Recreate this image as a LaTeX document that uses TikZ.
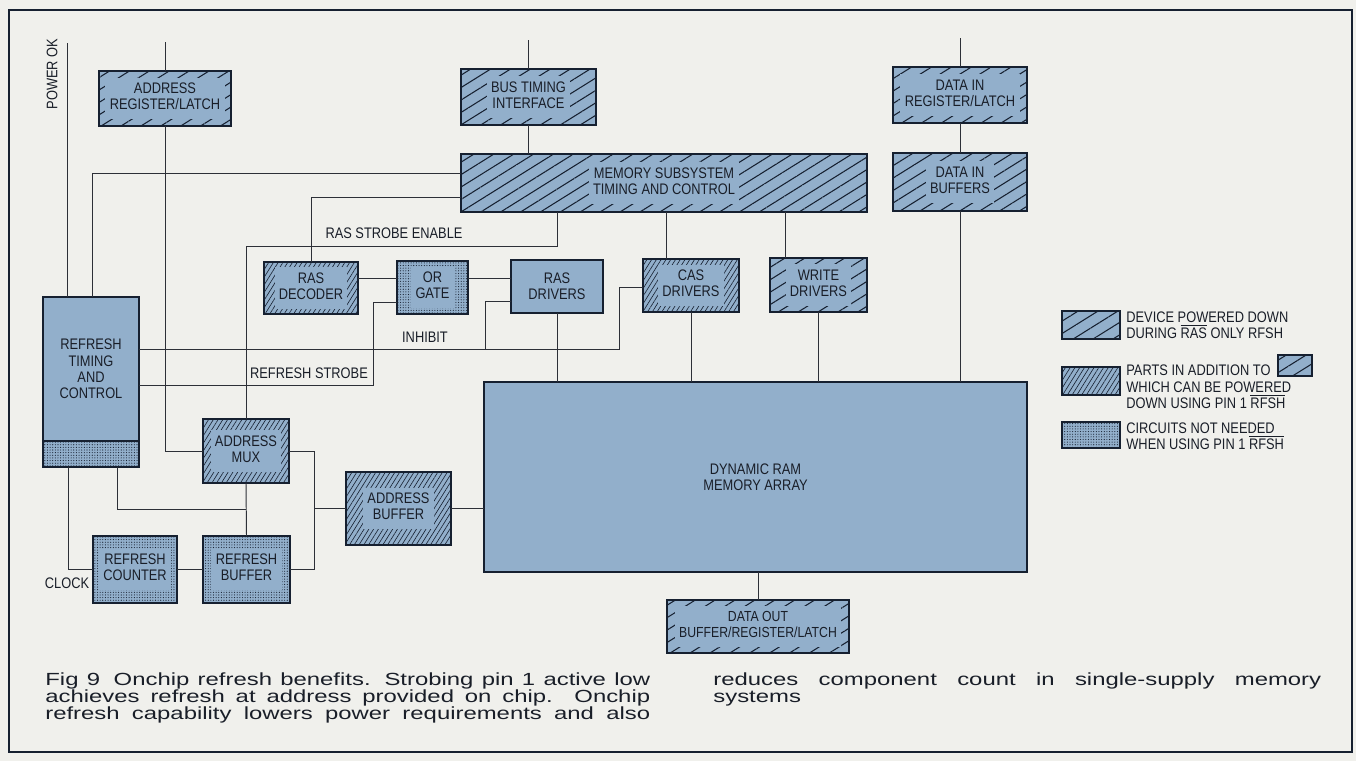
\documentclass[tikz,border=0pt]{standalone}
\usepackage{fontspec}
\newfontfamily\lblfont[FakeStretch=0.84]{Liberation Sans}
\newfontfamily\capfont[FakeStretch=1.36]{Liberation Sans}
\usetikzlibrary{patterns.meta}

\definecolor{paperbg}{RGB}{240,240,236}
\definecolor{boxfill}{RGB}{146,175,203}
\definecolor{boxedge}{RGB}{22,32,48}
\definecolor{wirecol}{RGB}{45,48,55}
\definecolor{inkcol}{RGB}{25,30,40}

\newcommand\clr[1]{{\setlength\fboxsep{2.5pt}\colorbox{boxfill}{\begin{tabular}{@{}c@{}}#1\end{tabular}}}}
\newcommand\ovl[1]{$\overline{\hbox{#1}}$}

\begin{document}
\begin{tikzpicture}[x=0.02cm,y=-0.02cm,
  lbl/.style={font=\lblfont\fontsize{8.7}{9.3}\selectfont,text=inkcol,inner sep=0pt},
  sz/.style 2 args={minimum width=#1cm,minimum height=#2cm},
  boxbase/.style={lbl,draw=boxedge,line width=1.3pt,outer sep=0pt,align=center},
  plainbox/.style={boxbase,fill=boxfill},
  widebox/.style={boxbase,preaction={fill=boxfill},
    pattern={Lines[angle=32,distance=6pt,line width=0.6pt]},pattern color=boxedge},
  densebox/.style={boxbase,preaction={fill=boxfill},
    pattern={Lines[angle=58,distance=2.3pt,line width=0.35pt]},pattern color=boxedge},
  dotbox/.style={boxbase,preaction={fill=boxfill},
    pattern={Dots[distance=1.5pt,radius=0.32pt]},pattern color=boxedge},
  wire/.style={draw=wirecol,line width=0.55pt},
  captext/.style={font=\capfont\fontsize{10}{9.7}\selectfont,text=inkcol,inner sep=0pt,
    anchor=north west,align=justify}]

 % page and frame
 \fill[paperbg] (0,0) rectangle (1356,761);
 \draw[boxedge,line width=1.4pt] (9,10) rectangle (1352,752);

 % blocks
 \node[widebox,sz={2.64}{1.10}] (addreg) at (165,98.5) {\clr{ADDRESS\\REGISTER/LATCH}};
 \node[widebox,sz={2.70}{1.12}] (bus) at (528.5,97) {\clr{BUS TIMING\\INTERFACE}};
 \node[widebox,sz={2.68}{1.12}] (dinreg) at (960,95) {\clr{DATA IN\\REGISTER/LATCH}};
 \node[widebox,sz={8.12}{1.16}] (memsub) at (664,183) {\clr{MEMORY SUBSYSTEM\\TIMING AND CONTROL}};
 \node[widebox,sz={2.68}{1.16}] (dinbuf) at (960,182) {\clr{DATA IN\\BUFFERS}};
 \node[densebox,sz={1.88}{1.04}] (rasdec) at (311,288) {\clr{RAS\\DECODER}};
 \node[dotbox,sz={1.42}{1.06}] (orgate) at (432.5,287.5) {\clr{OR\\GATE}};
 \node[plainbox,sz={1.84}{1.06}] (rasdrv) at (557,286.5) {RAS\\DRIVERS};
 \node[densebox,sz={1.92}{1.06}] (cas) at (691,285.5) {\clr{CAS\\DRIVERS}};
 \node[widebox,sz={1.94}{1.08}] (wrdrv) at (818.5,285) {\clr{WRITE\\DRIVERS}};
 \node[plainbox,sz={1.92}{2.88}] (rtc) at (91,369) {REFRESH\\TIMING\\AND\\CONTROL};
 \node[dotbox,sz={1.92}{0.52}] (rtcband) at (91,454) {};
 \node[densebox,sz={1.72}{1.28}] (amux) at (246,451) {\clr{ADDRESS\\MUX}};
 \node[densebox,sz={2.10}{1.46}] (adbuf) at (398.5,508.5) {\clr{ADDRESS\\BUFFER}};
 \node[dotbox,sz={1.68}{1.34}] (refcnt) at (135,569.5) {\clr{REFRESH\\COUNTER}};
 \node[dotbox,sz={1.74}{1.34}] (refbuf) at (246.5,569.5) {\clr{REFRESH\\BUFFER}};
 \node[plainbox,sz={10.86}{3.80}] (ram) at (755.5,477) {DYNAMIC RAM\\MEMORY ARRAY};
 \node[widebox,sz={3.64}{1.06},font=\lblfont\fontsize{8.3}{9}\selectfont] (dout) at (758,626.5)
   {\clr{DATA OUT\\BUFFER/REGISTER/LATCH}};

 % wires
 \draw[wire] (67,43) -- (rtc.north -| 67,0);
 \draw[wire] (addreg.north) -- ++(0,-29);
 \draw[wire] (addreg.south) |- (amux.west);
 \draw[wire] (bus.north) -- ++(0,-29);
 \draw[wire] (bus.south) -- (memsub.north -| bus.south);
 \draw[wire] (dinreg.north) -- ++(0,-29);
 \draw[wire] (dinreg.south) -- (dinbuf.north);
 \draw[wire] (dinbuf.south) -- (ram.north -| dinbuf.south);
 \draw[wire] (rtc.north -| 92,0) |- (memsub.west |- 0,173);
 \draw[wire] (rasdec.north) |- (memsub.west |- 0,197);
 \draw[wire] (memsub.south -| 557,0) |- (amux.north |- 0,246) -- (amux.north);
 \draw[wire] (memsub.south -| 666,0) -- (cas.north -| 666,0);
 \draw[wire] (memsub.south -| 785,0) -- (wrdrv.north -| 785,0);
 \draw[wire] (rasdec.east |- 0,278) -- (orgate.west |- 0,278);
 \draw[wire] (orgate.east |- 0,278) -- (rasdrv.west |- 0,278);
 \draw[wire] (rtc.east |- 0,385) -| (373,302) -- (orgate.west |- 0,302);
 \draw[wire] (rtc.east |- 0,349) -| (619,287) -- (cas.west |- 0,287);
 \draw[wire] (485,349) |- (rasdrv.west |- 0,301);
 \draw[wire] (rasdrv.south) -- (ram.north -| rasdrv.south);
 \draw[wire] (cas.south) -- (ram.north -| cas.south);
 \draw[wire] (wrdrv.south) -- (ram.north -| wrdrv.south);
 \draw[wire] (rtcband.south -| 68,0) |- (refcnt.west);
 \draw[wire] (rtcband.south -| 117,0) |- (amux.south |- 0,509);
 \draw[wire] (amux.south) -- (refbuf.north);
 \draw[wire] (refcnt.east) -- (refbuf.west);
 \draw[wire] (amux.east) -| (314,569.5) -- (refbuf.east);
 \draw[wire] (adbuf.west -| 314,0) -- (adbuf.west);
 \draw[wire] (adbuf.east) -- (ram.west |- adbuf.east);
 \draw[wire] (ram.south -| dout.north) -- (dout.north);

 % signal names
 \node[lbl,rotate=90] (pwrok) at (52,74) {POWER OK};
 \node[lbl] (rasen) at (394,233) {RAS STROBE ENABLE};
 \node[lbl] (inhib) at (425,337) {INHIBIT};
 \node[lbl] (rfstb) at (309,373) {REFRESH STROBE};
 \node[lbl] (clock) at (67,583) {CLOCK};

 % key
 \node[widebox,sz={1.16}{0.56}] (key1) at (1091,325) {};
 \node[densebox,sz={1.16}{0.56}] (key2) at (1091,381) {};
 \node[dotbox,sz={1.16}{0.52}] (key3) at (1091,435) {};
 \node[widebox,sz={0.68}{0.42}] (keyref) at (1295,365.5) {};
 \node[lbl,anchor=west,align=left] (key1txt) at (1126,325)
   {DEVICE POWERED DOWN\\DURING \ovl{RAS} ONLY RFSH};
 \node[lbl,anchor=west,align=left] (key2txt) at (1126,387)
   {PARTS IN ADDITION TO\\WHICH CAN BE POWERED\\DOWN USING PIN 1 \ovl{RFSH}};
 \node[lbl,anchor=west,align=left] (key3txt) at (1126,436)
   {CIRCUITS NOT NEEDED\\WHEN USING PIN 1 \ovl{RFSH}};

 % caption
 \node[captext,text width=12.1cm] (capa) at (45,672)
   {\tolerance=10000\hbadness=10000\lineskiplimit=-5pt\hyphenpenalty=10000
    Fig 9\hspace{0.3em} Onchip refresh benefits. Strobing pin 1 active low\linebreak
    achieves refresh at address provided on chip. Onchip\linebreak
    refresh capability lowers power requirements and also{\parfillskip=0pt\par}};
 \node[captext,text width=12.16cm] (capb) at (713,672)
   {\tolerance=10000\hbadness=10000\lineskiplimit=-5pt\hyphenpenalty=10000
    reduces component count in single-supply memory\linebreak systems};
\end{tikzpicture}
\end{document}
